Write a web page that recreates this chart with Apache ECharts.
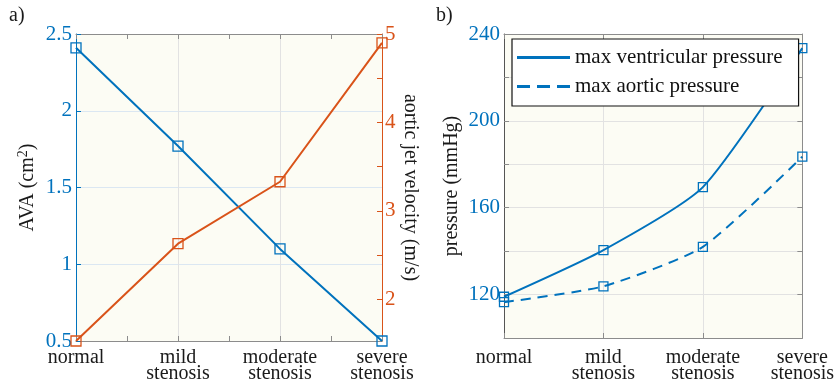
<!DOCTYPE html>
<html>
<head>
<meta charset="utf-8">
<script src="https://cdn.jsdelivr.net/npm/echarts@6/dist/echarts.min.js"></script>
<style>
html, body { margin: 0; padding: 0; background: #fff; }
#main { width: 837px; height: 386px; }
</style>
</head>
<body>
<div id="main"></div>
<script>
var stages = ['normal', 'mild\nstenosis', 'moderate\nstenosis', 'severe\nstenosis'];
// panel a
var ava = [2.41, 1.77, 1.1, 0.5];
var jetVelocity = [1.53, 2.63, 3.33, 4.9];
var velTickLabels = [2, 3, 4, 5];
var velTickMarks = [2, 2.5, 3, 3.5, 4, 4.5, 5];
// panel b
var ventricularP = [119, 140.5, 169.5, 233.5];
var aorticP = [116.5, 123.8, 142, 183.5];
var pTickLabels = [120, 160, 200, 240];

var BLUE = '#0072BD', ORANGE = '#D95319', GREY = '#8c8c8c';
var FONT = '"Liberation Serif", "DejaVu Serif", serif';

function toPoints(vals){
	return vals.map(function(v, i){ return [i + 1, v]; });
}
function stageLabel(v){
	return stages[v - 1] || '';
}
function xAxisOf(grid, top, minor){
	return {
		type: 'value', gridIndex: grid, position: top ? 'top' : 'bottom',
		min: 1, max: 4, interval: 1,
		axisLine: { show: true, lineStyle: { color: GREY, width: 1 } },
		axisTick: { show: true, inside: true, length: 5, lineStyle: { color: GREY } },
		minorTick: { show: minor, splitNumber: 2, length: 5, lineStyle: { color: GREY } },
		axisLabel: {
			show: !top, formatter: stageLabel, margin: grid === 0 ? 9 : 12,
			fontFamily: FONT, fontSize: 20, lineHeight: 16, color: '#1a1a1a'
		},
		splitLine: { show: !top, lineStyle: { color: '#e2e2e2' } }
	};
}
function hollow(color){
	return { color: 'rgba(0,0,0,0)', borderColor: color, borderWidth: 1.3 };
}

var chart = echarts.init(document.getElementById('main'), null, { renderer: 'canvas' });
var option = {
	animation: false,
	backgroundColor: '#fff',
	textStyle: { fontFamily: FONT },
	title: [
		{ text: 'a)', left: 9, top: 6, padding: 0, textStyle: { fontFamily: FONT, fontSize: 20, fontWeight: 'normal', color: '#1a1a1a' } },
		{ text: 'b)', left: 436, top: 6, padding: 0, textStyle: { fontFamily: FONT, fontSize: 20, fontWeight: 'normal', color: '#1a1a1a' } }
	],
	grid: [
		{ left: 76, top: 34, width: 306, height: 307, show: true, backgroundColor: '#fcfcf4', borderWidth: 0 },
		{ left: 504, top: 34, width: 305, height: 304, show: true, backgroundColor: '#fcfcf4', borderWidth: 0 }
	],
	legend: {
		left: 512, top: 39, orient: 'vertical',
		backgroundColor: '#fff', borderColor: '#111', borderWidth: 1.2,
		padding: [8, 16, 9, 5], itemGap: 8, itemWidth: 53, itemHeight: 3,
		textStyle: { fontFamily: FONT, fontSize: 21, color: '#111' },
		data: [
			{ name: 'max ventricular pressure', icon: 'path://M0,0H53V3H0Z', itemStyle: { color: BLUE, borderWidth: 0 } },
			{ name: 'max aortic pressure', icon: 'path://M0,0H13V3H0Z M20,0H33V3H20Z M40,0H53V3H40Z', itemStyle: { color: BLUE, borderWidth: 0 } }
		]
	},
	xAxis: [
		xAxisOf(0, false, true),
		xAxisOf(0, true, true),
		xAxisOf(1, false, false),
		xAxisOf(1, true, false)
	],
	yAxis: [
		{
			type: 'value', gridIndex: 0, position: 'left',
			min: 0.5, max: 2.5, interval: 0.5,
			name: 'AVA (cm{sup|2})', nameLocation: 'middle', nameGap: 36,
			nameTextStyle: {
				fontFamily: FONT, fontSize: 20, lineHeight: 24, color: '#1a1a1a',
				rich: { sup: { fontFamily: FONT, fontSize: 14, lineHeight: 14, verticalAlign: 'top', color: '#1a1a1a' } }
			},
			axisLine: { show: true, lineStyle: { color: BLUE, width: 1 } },
			axisTick: { show: true, inside: true, length: 5, lineStyle: { color: BLUE } },
			axisLabel: { margin: 4, fontFamily: FONT, fontSize: 21, color: BLUE },
			splitLine: { show: true, lineStyle: { color: '#dbe7f2' } }
		},
		{
			type: 'value', gridIndex: 0, position: 'right',
			min: 1.53, max: 5,
			name: 'aortic jet velocity (m/s)', nameLocation: 'middle', nameGap: 18, nameRotate: -90,
			nameTextStyle: { fontFamily: FONT, fontSize: 20, color: '#1a1a1a' },
			axisLine: { show: true, lineStyle: { color: ORANGE, width: 1 } },
			axisTick: { show: true, inside: true, length: 5, customValues: velTickMarks, lineStyle: { color: ORANGE } },
			axisLabel: { margin: 3, customValues: velTickLabels, fontFamily: FONT, fontSize: 21, color: ORANGE },
			splitLine: { show: false }
		},
		{
			type: 'value', gridIndex: 1, position: 'left',
			min: 100, max: 240, interval: 20,
			name: 'pressure (mmHg)', nameLocation: 'middle', nameGap: 42,
			nameTextStyle: { fontFamily: FONT, fontSize: 20, color: '#1a1a1a' },
			axisLine: { show: true, lineStyle: { color: '#555', width: 1 } },
			axisTick: { show: true, inside: true, length: 5, lineStyle: { color: GREY } },
			axisLabel: {
				margin: 4, fontFamily: FONT, fontSize: 21, color: BLUE,
				formatter: function(v){ return pTickLabels.indexOf(v) >= 0 ? v : ''; }
			},
			splitLine: { show: true, lineStyle: { color: '#e2e2e2' } }
		},
		{
			type: 'value', gridIndex: 1, position: 'right',
			min: 100, max: 240, interval: 20,
			axisLine: { show: true, lineStyle: { color: GREY, width: 1 } },
			axisTick: { show: true, inside: true, length: 5, lineStyle: { color: GREY } },
			axisLabel: { show: false },
			splitLine: { show: false }
		}
	],
	series: [
		{
			name: 'AVA', type: 'line', xAxisIndex: 0, yAxisIndex: 0,
			data: toPoints(ava), symbol: 'rect', symbolSize: 10,
			lineStyle: { color: BLUE, width: 2 }, itemStyle: hollow(BLUE)
		},
		{
			name: 'aortic jet velocity', type: 'line', xAxisIndex: 0, yAxisIndex: 1,
			data: toPoints(jetVelocity), symbol: 'rect', symbolSize: 10,
			lineStyle: { color: ORANGE, width: 2 }, itemStyle: hollow(ORANGE)
		},
		{
			name: 'max ventricular pressure', type: 'line', xAxisIndex: 2, yAxisIndex: 2,
			data: toPoints(ventricularP), symbol: 'rect', symbolSize: 9, smooth: 0.2,
			lineStyle: { color: BLUE, width: 2 }, itemStyle: hollow(BLUE)
		},
		{
			name: 'max aortic pressure', type: 'line', xAxisIndex: 2, yAxisIndex: 2,
			data: toPoints(aorticP), symbol: 'rect', symbolSize: 9, smooth: 0.2,
			lineStyle: { color: BLUE, width: 2, type: [10, 7] }, itemStyle: hollow(BLUE)
		}
	]
};
chart.setOption(option);
</script>
</body>
</html>
